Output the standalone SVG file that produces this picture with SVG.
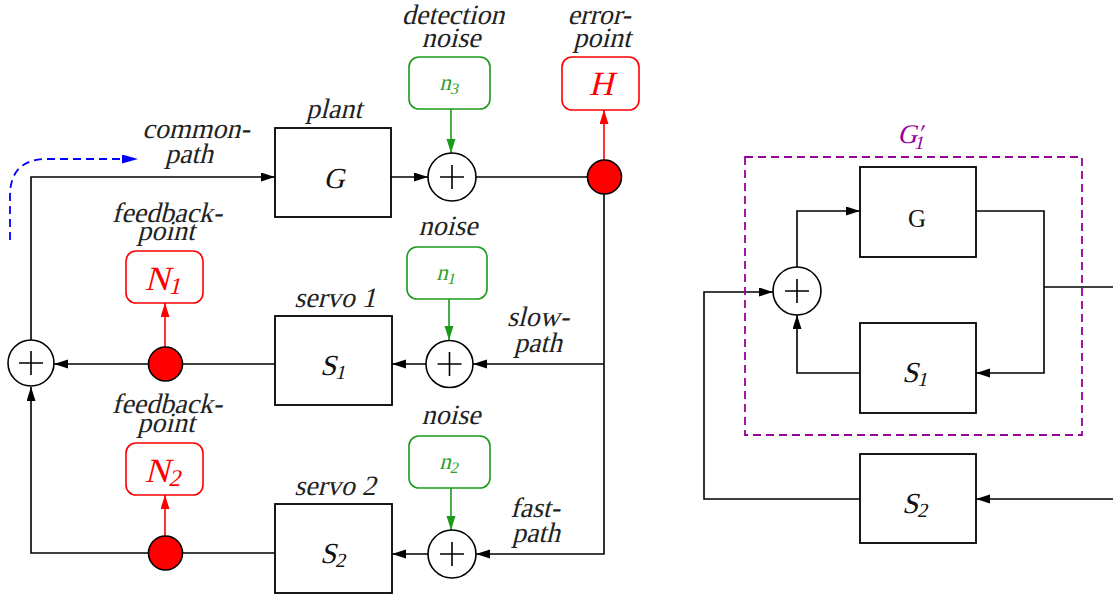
<svg xmlns="http://www.w3.org/2000/svg" width="1113" height="596" viewBox="0 0 1113 596">
<style>
text{font-family:"Liberation Serif","Times New Roman",serif;font-style:normal}
.ln{fill:none;stroke:#000;stroke-width:1.6}
.box{fill:#fff;stroke:#000;stroke-width:1.8}
.sum{fill:#fff;stroke:#000;stroke-width:1.6}
.dot{fill:#f00;stroke:#000;stroke-width:1.6}
.lbl{font-size:28px;fill:#222;text-anchor:middle}
.math{font-size:29px;fill:#111;text-anchor:middle}
.sub{font-size:20px}
.gbox{fill:#fff;stroke:#1a9a1a;stroke-width:1.6}
.rbox{fill:#fff;stroke:#f00;stroke-width:1.6}
.gt{font-size:23px;fill:#2ea02e;text-anchor:middle}
.gsub{font-size:16px}
.rt{font-size:34px;fill:#f00;text-anchor:middle}
.rsub{font-size:24px}
.g{stroke:#1a9a1a}
.r{stroke:#f00}
</style>
<defs>
<marker id="ak" markerUnits="userSpaceOnUse" markerWidth="15" markerHeight="10" refX="14" refY="4.5" orient="auto"><path d="M0,0 L14,4.5 L0,9 z" fill="#000"/></marker>
<marker id="ag" markerUnits="userSpaceOnUse" markerWidth="15" markerHeight="10" refX="14" refY="4.5" orient="auto"><path d="M0,0 L14,4.5 L0,9 z" fill="#1a9a1a"/></marker>
<marker id="ar" markerUnits="userSpaceOnUse" markerWidth="15" markerHeight="10" refX="14" refY="4.5" orient="auto"><path d="M0,0 L14,4.5 L0,9 z" fill="#f00"/></marker>
<marker id="ab" markerUnits="userSpaceOnUse" markerWidth="17" markerHeight="10" refX="16" refY="4.5" orient="auto"><path d="M0,0 L16,4.5 L0,9 z" fill="#00f"/></marker>
</defs>

<g id="connectors">
<path class="ln" d="M31,340 L31,177 L275,177" marker-end="url(#ak)"/>
<path class="ln" d="M391,177 L428,177" marker-end="url(#ak)"/>
<path class="ln" d="M476,177 L590,177"/>
<path class="ln" d="M604,194 L604,554 L476,554" marker-end="url(#ak)"/>
<path class="ln" d="M604,364 L473,364" marker-end="url(#ak)"/>
<path class="ln" d="M426,364 L392,364" marker-end="url(#ak)"/>
<path class="ln" d="M275,364 L54,364" marker-end="url(#ak)"/>
<path class="ln" d="M428,554 L392,554" marker-end="url(#ak)"/>
<path class="ln" d="M275,553 L31,553 L31,387" marker-end="url(#ak)"/>
<path class="ln g" d="M451,109 L451,153" marker-end="url(#ag)"/>
<path class="ln g" d="M449,299 L449,340" marker-end="url(#ag)"/>
<path class="ln g" d="M451,488 L451,530" marker-end="url(#ag)"/>
<path class="ln r" d="M604,160 L604,110" marker-end="url(#ar)"/>
<path class="ln r" d="M165,347 L165,303" marker-end="url(#ar)"/>
<path class="ln r" d="M165,536 L165,495" marker-end="url(#ar)"/>
<path d="M10,240 L10,196 Q10,159 47,159 L138,159" fill="none" stroke="#00f" stroke-width="1.8" stroke-dasharray="8,5" marker-end="url(#ab)"/>

<path class="ln" d="M797,267 L797,211 L860,211" marker-end="url(#ak)"/>
<path class="ln" d="M976,211 L1044,211 L1044,373 L976,373" marker-end="url(#ak)"/>
<path class="ln" d="M1044,287 L1113,287"/>
<path class="ln" d="M860,373 L797,373 L797,315" marker-end="url(#ak)"/>
<path class="ln" d="M1113,499 L976,499" marker-end="url(#ak)"/>
<path class="ln" d="M860,499 L704,499 L704,292 L773,292" marker-end="url(#ak)"/>
</g>

<g id="plant">
<rect class="box" x="275" y="128" width="116" height="89"/>
<text class="math" font-size="26" transform="translate(334,188) skewX(-14)">G</text>
<text class="lbl" transform="translate(334,118) skewX(-14)">plant</text>
</g>
<g id="servo1">
<rect class="box" x="275" y="316" width="117" height="89"/>
<text class="math" transform="translate(333,375) skewX(-14)">S<tspan class="sub" dy="4">1</tspan></text>
<text class="lbl" transform="translate(335,307) skewX(-14)">servo 1</text>
</g>
<g id="servo2">
<rect class="box" x="275" y="504" width="117" height="89"/>
<text class="math" transform="translate(333,563) skewX(-14)">S<tspan class="sub" dy="4">2</tspan></text>
<text class="lbl" transform="translate(335,495) skewX(-14)">servo 2</text>
</g>

<g id="sum-left">
<circle class="sum" cx="31" cy="363" r="23"/>
<path class="ln" d="M19,363 H43 M31,351 V375"/>
</g>
<g id="sum-n3">
<circle class="sum" cx="452" cy="177" r="24"/>
<path class="ln" d="M440,177 H464 M452,165 V189"/>
</g>
<g id="sum-n1">
<circle class="sum" cx="449.5" cy="364" r="23.5"/>
<path class="ln" d="M437.5,364 H461.5 M449.5,352 V376"/>
</g>
<g id="sum-n2">
<circle class="sum" cx="452" cy="554" r="24"/>
<path class="ln" d="M440,554 H464 M452,542 V566"/>
</g>

<g id="error-dot"><circle class="dot" cx="604.5" cy="177" r="17"/></g>
<g id="fb-dot1"><circle class="dot" cx="165.5" cy="364" r="17"/></g>
<g id="fb-dot2"><circle class="dot" cx="165.5" cy="553" r="17"/></g>

<g id="n3">
<rect class="gbox" x="409" y="57" width="81" height="52" rx="10"/>
<text class="gt" transform="translate(449,90) skewX(-14)">n<tspan class="gsub" dy="4">3</tspan></text>
<text class="lbl" transform="translate(453,24) skewX(-14)">detection</text>
<text class="lbl" transform="translate(451,47) skewX(-14)">noise</text>
</g>
<g id="H">
<rect class="rbox" x="562" y="57" width="77" height="53" rx="10"/>
<text class="rt" transform="translate(601,95) skewX(-14)">H</text>
<text class="lbl" transform="translate(599,24) skewX(-14)">error-</text>
<text class="lbl" transform="translate(602,47) skewX(-14)">point</text>
</g>
<g id="n1">
<rect class="gbox" x="407" y="247" width="80" height="52" rx="10"/>
<text class="gt" transform="translate(446,280) skewX(-14)">n<tspan class="gsub" dy="4">1</tspan></text>
<text class="lbl" transform="translate(448,235) skewX(-14)">noise</text>
</g>
<g id="n2">
<rect class="gbox" x="409" y="436" width="81" height="52" rx="10"/>
<text class="gt" transform="translate(449,469) skewX(-14)">n<tspan class="gsub" dy="4">2</tspan></text>
<text class="lbl" transform="translate(451,424) skewX(-14)">noise</text>
</g>
<g id="N1">
<rect class="rbox" x="126" y="251" width="77" height="52" rx="10"/>
<text class="rt" transform="translate(163,290) skewX(-14)">N<tspan class="rsub" dy="4">1</tspan></text>
<text class="lbl" transform="translate(167,222) skewX(-14)">feedback-</text>
<text class="lbl" transform="translate(166,240) skewX(-14)">point</text>
</g>
<g id="N2">
<rect class="rbox" x="126" y="443" width="77" height="52" rx="10"/>
<text class="rt" transform="translate(163,482) skewX(-14)">N<tspan class="rsub" dy="4">2</tspan></text>
<text class="lbl" transform="translate(167,413) skewX(-14)">feedback-</text>
<text class="lbl" transform="translate(166,432) skewX(-14)">point</text>
</g>
<g id="path-labels">
<text class="lbl" transform="translate(196,138) skewX(-14)">common-</text>
<text class="lbl" transform="translate(189,163) skewX(-14)">path</text>
<text class="lbl" transform="translate(538,326) skewX(-14)">slow-</text>
<text class="lbl" transform="translate(538,352) skewX(-14)">path</text>
<text class="lbl" transform="translate(535,517) skewX(-14)">fast-</text>
<text class="lbl" transform="translate(536,542) skewX(-14)">path</text>
</g>

<g id="G1prime">
<rect x="745" y="157" width="337" height="278" fill="none" stroke="#990099" stroke-width="1.8" stroke-dasharray="8,5"/>
<text transform="translate(911,143) skewX(-14)" font-size="27" fill="#990099" text-anchor="middle">G<tspan font-size="24" dy="-2">′</tspan><tspan font-size="19" dx="-7" dy="8">1</tspan></text>
</g>
<g id="G-right">
<rect class="box" x="860" y="167" width="116" height="90"/>
<text x="917" y="227" font-size="25" fill="#111" text-anchor="middle">G</text>
</g>
<g id="S1-right">
<rect class="box" x="860" y="323" width="116" height="90"/>
<text class="math" transform="translate(915,382) skewX(-14)">S<tspan class="sub" dy="4">1</tspan></text>
</g>
<g id="S2-right">
<rect class="box" x="860" y="454" width="116" height="89"/>
<text class="math" transform="translate(915,513) skewX(-14)">S<tspan class="sub" dy="4">2</tspan></text>
</g>
<g id="sum-right">
<circle class="sum" cx="797" cy="291" r="24"/>
<path class="ln" d="M785,291 H809 M797,279 V303"/>
</g>
</svg>
